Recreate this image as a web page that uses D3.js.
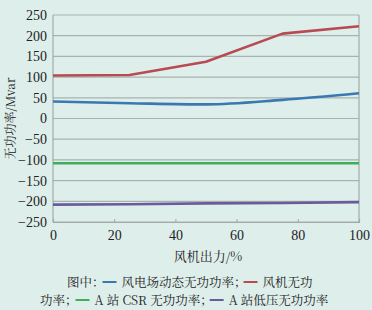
<!DOCTYPE html>
<html><head><meta charset="utf-8">
<script src="https://cdn.jsdelivr.net/npm/d3@7"></script>
<style>body{margin:0;background:#deefeb;}svg{display:block;}</style>
</head><body>
<svg id="c" width="372" height="310"></svg>
<script>
const xValues = [0, 25, 50, 75, 100];
const fanReactive = [104, 105, 137, 205, 223];
const farmDynamicReactive = [41, 37, 34, 45, 61];
const csrReactive = [-108, -108, -108, -108, -108];
const lowVoltageReactive = [-208, -207, -205, -204, -202];
const xTicks = [0, 20, 40, 60, 80, 100];
const yTicks = [-250, -200, -150, -100, -50, 0, 50, 100, 150, 200, 250];
const seriesNames = ["风电场动态无功功率", "风机无功功率", "A 站 CSR 无功功率", "A 站低压无功功率"];
const colors = ["#3a78b2", "#b84a52", "#3fae5c", "#6a5c9c"];

const svg = d3.select("#c");
const m = {l:53, r:13, t:15, b:88};
const W = 372, H = 310;
const x = d3.scaleLinear().domain([0,100]).range([m.l, W-m.r]);
const y = d3.scaleLinear().domain([-250,250]).range([H-m.b, m.t]);
const serif = "'Liberation Serif', 'Times New Roman', serif";
const cjk = "'Noto Serif CJK SC', 'Liberation Serif', 'Noto Sans CJK SC', serif";

svg.append("g").selectAll("line").data(yTicks).join("line")
  .attr("x1", x(0)).attr("x2", x(100))
  .attr("y1", d=>y(d)).attr("y2", d=>y(d))
  .attr("stroke", "#a9b2ae").attr("stroke-width", 1.2);
svg.append("line").attr("x1",x(0)).attr("x2",x(0)).attr("y1",y(250)).attr("y2",y(-250)).attr("stroke","#a2aaa7").attr("stroke-width",1.2);
svg.append("line").attr("x1",x(100)).attr("x2",x(100)).attr("y1",y(250)).attr("y2",y(-250)).attr("stroke","#a2aaa7").attr("stroke-width",1.2);

const xa = svg.append("g").attr("transform",`translate(0,${y(-250)})`)
  .call(d3.axisBottom(x).tickValues(xTicks).tickSize(-3).tickPadding(8).tickFormat(d3.format("d")));
xa.select(".domain").attr("stroke","#a2aaa7").attr("stroke-width",1.2);
xa.selectAll(".tick line").attr("stroke","#a2aaa7");
xa.selectAll("text").style("font-family",serif).style("font-size","14px").attr("fill","#222");

const ya = svg.append("g").attr("transform",`translate(${x(0)},0)`)
  .call(d3.axisLeft(y).tickValues(yTicks).tickSize(0).tickPadding(6).tickFormat(d=>d<0?"\u2212"+Math.abs(d):d));
ya.select(".domain").remove();
ya.selectAll("text").style("font-family",serif).style("font-size","14px").attr("fill","#222");

const allSeries = [farmDynamicReactive, fanReactive, csrReactive, lowVoltageReactive];
const line = d3.line().x((d,i)=>x(xValues[i])).y(d=>y(d));
const smooth = d3.line().x((d,i)=>x(xValues[i])).y(d=>y(d)).curve(d3.curveMonotoneX);
allSeries.forEach((s,k)=>{
  svg.append("path").datum(s).attr("d", k===0?smooth:line)
    .attr("fill","none").attr("stroke",colors[k]).attr("stroke-width",2.6).attr("stroke-linejoin","round");
});

svg.append("text").attr("transform",`translate(15,${y(0)}) rotate(-90)`)
  .attr("text-anchor","middle").style("font-family",cjk).style("font-size","12px").attr("fill","#222")
  .text("无功功率/Mvar");
svg.append("text").attr("x",(x(0)+x(100))/2+2).attr("y",261).attr("text-anchor","middle")
  .style("font-family",cjk).style("font-size","13px").attr("fill","#222").text("风机出力/%");

function legendRow(x0, yy, items){
  let cx = x0;
  items.forEach(it=>{
    if (it.dash !== undefined){
      svg.append("line").attr("x1",cx+1).attr("x2",cx+15).attr("y1",yy-5).attr("y2",yy-5)
        .attr("stroke",colors[it.dash]).attr("stroke-width",2);
      cx += 20;
    } else {
      const t = svg.append("text").attr("x",cx).attr("y",yy)
        .style("font-family",cjk).style("font-size","12.5px").attr("fill","#222").text(it.t);
      cx += t.node().getComputedTextLength() + (it.gap||0);
    }
  });
}
legendRow(67, 287, [{t:"图中：",gap:-3},{dash:0},{t:seriesNames[0]+"；",gap:-4},{dash:1},{t:"风机无功"}]);
legendRow(40, 305, [{t:"功率；",gap:-3},{dash:2},{t:seriesNames[2]+"；",gap:-4},{dash:3},{t:seriesNames[3]}]);
</script>
</body></html>
